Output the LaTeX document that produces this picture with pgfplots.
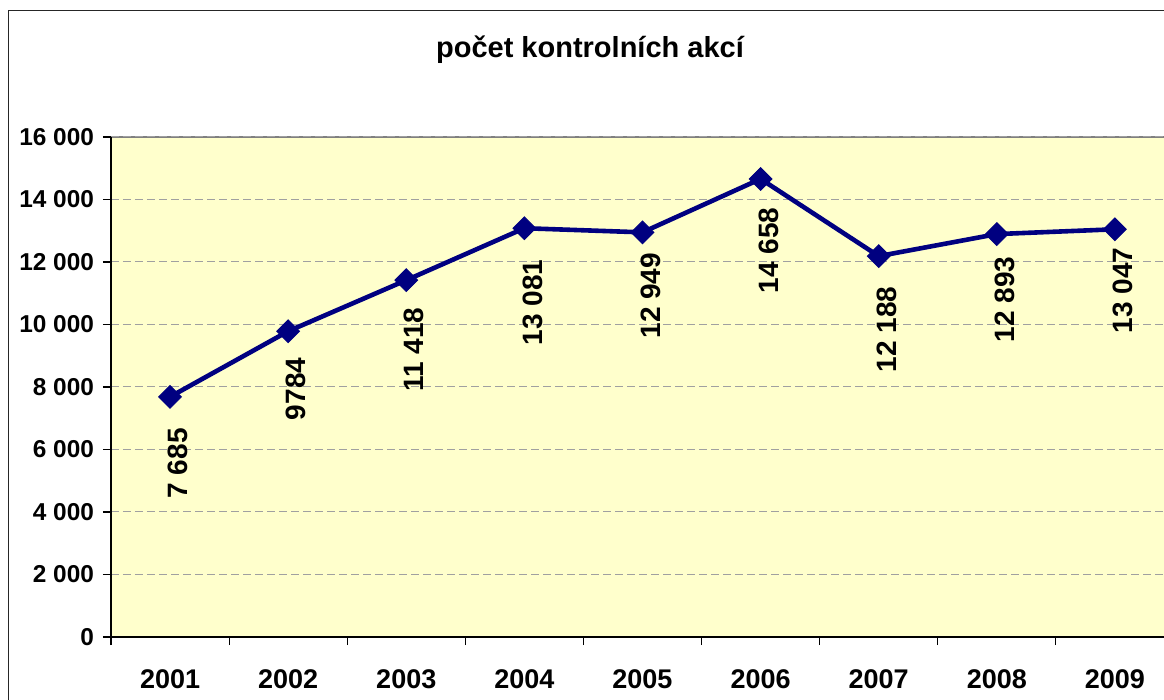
\documentclass[border=0pt]{standalone}
\usepackage{fontspec}
\setmainfont{Liberation Sans}
\usepackage{pgfplots}
\usepackage{pgfplotstable}
\pgfplotsset{compat=1.18}
\definecolor{navyline}{HTML}{000080}
\definecolor{plotbg}{HTML}{FFFFCC}
\definecolor{gridgray}{HTML}{A0A0A0}

% off = gap (pt) between point and top of its label
\pgfplotstableread[col sep=comma]{
x,y,lab,off
1,7685,7 685,15.5
2,9784,9784,13
3,11418,11 418,13.5
4,13081,13 081,15.5
5,12949,12 949,10
6,14658,14 658,14
7,12188,12 188,15
8,12893,12 893,11
9,13047,13 047,9
}\kontroly

\begin{document}
\begin{tikzpicture}
  \useasboundingbox (0,0) rectangle (582pt,-350pt);
  \clip (0,0) rectangle (582pt,-350pt);
  \draw[overlay, line width=0.75pt, black!85] (4.2pt,-5.3pt) rectangle (640pt,-400pt);
  \node[anchor=base, font=\fontsize{14.5}{16}\selectfont\bfseries] at (295pt,-28.8pt) {počet kontrolních akcí};
  \begin{axis}[
      overlay,
      at={(55.5pt,-318.5pt)}, anchor=south west,
      scale only axis, width=531.5pt, height=250pt,
      xmin=0.5, xmax=9.5, ymin=0, ymax=16000,
      axis lines*=left,
      axis line style={black, line width=0.6pt},
      axis background/.style={fill=plotbg, draw=gray, line width=0.8pt},
      xtick={0.5,1.5,...,9.5},
      xticklabels={2001,2002,2003,2004,2005,2006,2007,2008,2009},
      x tick label as interval,
      ytick={0,2000,...,16000},
      yticklabels={0,{2 000},{4 000},{6 000},{8 000},{10 000},{12 000},{14 000},{16 000}},
      scaled y ticks=false,
      tick align=outside,
      major tick length=4pt,
      tick style={black, line width=0.6pt},
      xticklabel style={font=\fontsize{13.5}{14}\selectfont\bfseries, yshift=-9pt},
      yticklabel style={font=\fontsize{12.2}{13}\selectfont\bfseries, xshift=-1pt},
      ymajorgrids,
      grid style={gridgray, dash pattern=on 4pt off 2pt, line width=0.5pt},
      clip=false,
    ]
    \addplot[navyline, line width=2.3pt, mark=square*, mark size=4pt,
      mark options={rotate=45, solid, fill=navyline, line width=0.5pt},
      point meta=explicit symbolic,
      visualization depends on={\thisrow{off} \as \labeloff},
      nodes near coords,
      every node near coord/.append style={yshift=-\labeloff, xshift=4pt,
        rotate=90, anchor=east, inner sep=0pt, black,
        font=\fontsize{14}{14}\selectfont\bfseries}]
      table[x=x, y=y, meta=lab] {\kontroly};
  \end{axis}
\end{tikzpicture}
\end{document}
